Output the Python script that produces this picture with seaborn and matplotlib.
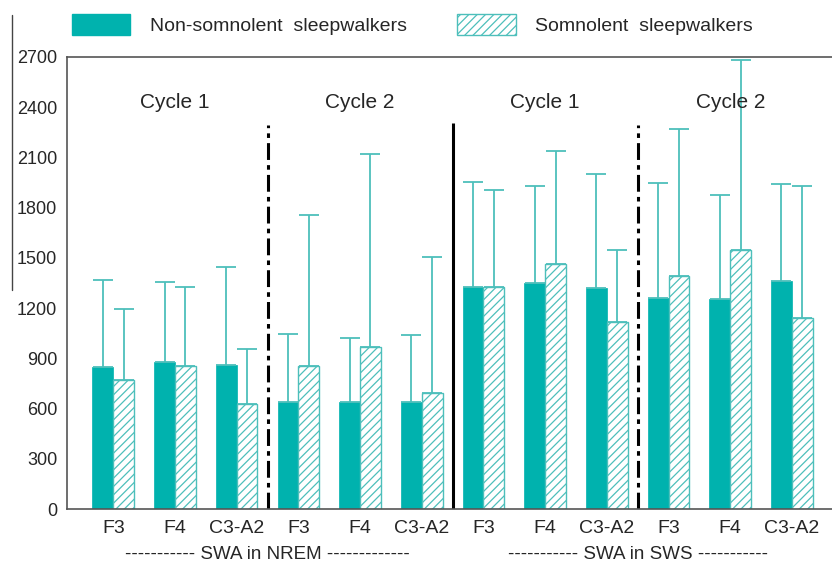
import pandas as pd
import matplotlib
matplotlib.use('Agg')
import matplotlib.pyplot as plt
from matplotlib.patches import Patch
from matplotlib.lines import Line2D
import seaborn as sns

# данные
positions = ['NREM C1 F3', 'NREM C1 F4', 'NREM C1 C3-A2',
             'NREM C2 F3', 'NREM C2 F4', 'NREM C2 C3-A2',
             'SWS C1 F3', 'SWS C1 F4', 'SWS C1 C3-A2',
             'SWS C2 F3', 'SWS C2 F4', 'SWS C2 C3-A2']
tick_labels = ['F3', 'F4', 'C3-A2'] * 4
groups = ['Non-somnolent  sleepwalkers', 'Somnolent  sleepwalkers']

non_somn = [848, 876, 858, 641, 641, 641, 1324, 1350, 1318, 1262, 1254, 1362]
non_somn_sd = [520, 482, 586, 404, 380, 400, 631, 581, 681, 683, 623, 579]
somn = [772, 852, 629, 856, 968, 693, 1328, 1461, 1115, 1390, 1545, 1143]
somn_sd = [423, 476, 329, 900, 1151, 814, 575, 677, 430, 878, 1135, 784]

cycle_labels = ['Cycle 1', 'Cycle 2', 'Cycle 1', 'Cycle 2']
section_labels = ['----------- SWA in NREM -------------', '----------- SWA in SWS -----------']

teal = '#00b2ae'
light = '#4dbfbb'
grey = '#555555'

sns.set_style('white')
plt.rcParams['font.family'] = ['Liberation Sans', 'DejaVu Sans']
plt.rcParams['hatch.linewidth'] = 0.9

df = pd.DataFrame({
    'pos': positions * 2,
    'value': non_somn + somn,
    'group': [groups[0]] * 12 + [groups[1]] * 12,
})
sd = {groups[0]: non_somn_sd, groups[1]: somn_sd}

fig = plt.figure(figsize=(8.32, 5.64), dpi=100)
ax = fig.add_axes([67 / 832, 55 / 564, 765 / 832, 452 / 564])

sns.barplot(data=df, x='pos', y='value', hue='group', order=positions, hue_order=groups,
            palette={groups[0]: teal, groups[1]: 'white'}, width=0.675, gap=0,
            errorbar=None, legend=False, saturation=1, ax=ax)

for cont, g in zip(ax.containers, groups):
    for bar, err in zip(cont, sd[g]):
        if g == groups[1]:
            bar.set_hatch('////')
            bar.set_edgecolor(light)
            bar.set_linewidth(1.0)
        else:
            bar.set_edgecolor(teal)
            bar.set_linewidth(0.5)
        xc = bar.get_x() + bar.get_width() / 2
        ax.errorbar(xc, bar.get_height(), yerr=[[0], [err]], color=light, lw=1.3,
                    capsize=7, capthick=1.3, zorder=1)

# разделители
ax.vlines([2.5, 8.5], 0, 2295, colors='black', lw=2.2, linestyles=[(0, (5.5, 1.7, 1.5, 1.7))])
ax.vlines(5.5, 0, 2305, colors='black', lw=2.2)

for x, lab in zip([1, 4, 7, 10], cycle_labels):
    ax.text(x, 2430, lab, ha='center', va='center', fontsize=15)

trans = ax.get_xaxis_transform()
for x, lab in zip([2.5, 8.5], section_labels):
    ax.text(x, -0.101, lab, ha='center', va='center', fontsize=13.5, transform=trans)

ax.set_xlim(-0.75, 11.65)
ax.set_ylim(0, 2700)
ax.set_yticks(range(0, 2701, 300))
ax.set_xticks(range(12))
ax.set_xticklabels(tick_labels, fontsize=14)
ax.tick_params(axis='y', direction='in', length=7, width=1, color=grey, labelsize=13, pad=7)
ax.tick_params(axis='x', length=0, pad=8)
ax.set_xlabel('')
ax.set_ylabel('')
for s in ['left', 'bottom', 'top']:
    ax.spines[s].set_color(grey)
    ax.spines[s].set_linewidth(1.2)
ax.spines['right'].set_visible(False)

handles = [Patch(facecolor=teal, edgecolor=teal),
           Patch(facecolor='white', edgecolor=light, hatch='////')]
fig.legend(handles, groups, loc='upper left', bbox_to_anchor=(72 / 832, 1 - 14 / 564),
           ncol=2, frameon=False, fontsize=14, handlelength=3.0, handleheight=1.3,
           handletextpad=1.0, columnspacing=2.6, borderaxespad=0, borderpad=0)

fig.add_artist(Line2D([12 / 832, 12 / 832], [1 - 15 / 564, 1 - 290 / 564], color='#444444', lw=1))

fig.savefig('out.png', dpi=100)
